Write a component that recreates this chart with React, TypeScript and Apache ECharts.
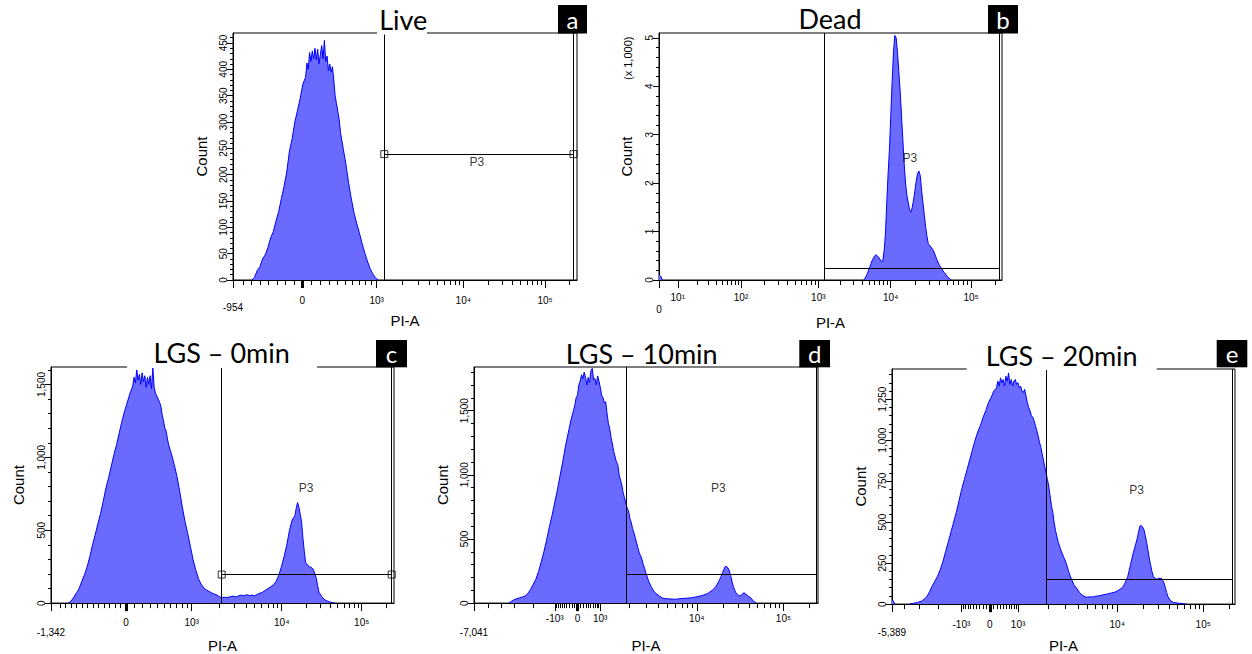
import React, { useEffect, useRef } from 'react';
import * as echarts from 'echarts';

const FONT = "'Liberation Sans', Arial, sans-serif";
const TITLE_FONT = "Lato, 'Open Sans', sans-serif";

// ---------------- titles ----------------
const panelTitles = ['Live', 'Dead', 'LGS – 0min', 'LGS – 10min', 'LGS – 20min'];
const panelLetters = ['a', 'b', 'c', 'd', 'e'];

// ---------------- histogram data: [PI-A display channel (0-256), count] ----------------
const liveHist: any[] = [[14,0],[16,5],[18,18],[20,25],[22,40],[24,48],[26,62],[28,80],[30,92],[32,112],[34,130],[36,155],[38,178],[40,205],[42,245],[44,268],[46,300],[48,322],[50,345],[52,372],[54,385],[55,412],[56,400],[57,432],[58,415],[59,435],[60,420],[61,440],[62,418],[63,438],[64,410],[65,428],[66,445],[67,420],[68,455],[69,415],[70,425],[71,398],[72,410],[73,395],[74,405],[75,380],[76,350],[77,335],[78,320],[79,305],[80,280],[82,250],[84,220],[86,185],[88,155],[90,128],[92,108],[94,90],[96,70],[98,52],[100,36],[102,22],[104,12],[106,4],[108,0]];

const deadHist: any[] = [[0,110],[1.5,70],[2.5,0],[3,'-'],[153,0],[155,100],[157,240],[159,400],[161,500],[162,520],[164,470],[166,380],[167,390],[168,600],[169,950],[170,1600],[171,2200],[172,2700],[173,3400],[174,4100],[175,4700],[176,5050],[177,5000],[178,4700],[179,4300],[180,3900],[181,3400],[182,2900],[183,2400],[184,2000],[185,1750],[186,1600],[187,1450],[188,1400],[189,1500],[190,1650],[191,1850],[192,2050],[193,2200],[194,2250],[195,2150],[196,1850],[197,1600],[198,1350],[199,1100],[200,900],[201,750],[203,680],[205,600],[207,450],[209,320],[211,230],[213,150],[215,80],[217,20],[218,0]];

const lgs0Hist: any[] = [[13,0],[15,15],[17,40],[19,70],[21,100],[23,150],[25,195],[27,250],[29,320],[31,400],[33,470],[35,545],[37,615],[39,700],[41,790],[43,860],[45,940],[47,1020],[49,1090],[51,1170],[53,1250],[55,1320],[57,1380],[59,1440],[61,1490],[62,1550],[63,1510],[64,1600],[65,1530],[66,1570],[67,1500],[68,1580],[69,1520],[70,1560],[71,1480],[72,1550],[73,1500],[74,1560],[75,1470],[76,1620],[77,1480],[78,1440],[79,1420],[80,1400],[81,1380],[82,1350],[83,1290],[84,1250],[85,1200],[86,1180],[87,1120],[88,1080],[89,1050],[90,1020],[92,950],[94,870],[96,770],[98,660],[100,560],[102,480],[104,390],[106,300],[108,230],[110,170],[112,130],[114,105],[116,90],[118,80],[120,70],[122,62],[124,55],[126,42],[128,38],[130,40],[132,38],[134,45],[136,48],[138,42],[140,50],[142,55],[144,50],[146,58],[148,52],[150,55],[152,50],[154,60],[156,68],[158,75],[160,88],[162,100],[164,112],[166,125],[168,150],[170,190],[172,250],[174,320],[176,400],[178,500],[180,570],[182,600],[183,650],[184,690],[185,660],[186,610],[187,560],[188,450],[189,360],[190,280],[191,265],[192,258],[193,250],[194,245],[195,240],[196,225],[197,200],[198,170],[199,120],[200,75],[202,45],[204,25],[206,15],[208,8],[210,3],[212,0]];

const lgs10Hist: any[] = [[26,0],[28,15],[30,28],[32,35],[34,42],[36,48],[38,55],[40,75],[42,105],[44,145],[46,185],[48,245],[50,320],[52,400],[54,490],[56,590],[58,680],[60,780],[62,880],[64,990],[66,1100],[68,1220],[70,1320],[72,1420],[74,1500],[75,1540],[76,1600],[77,1620],[78,1700],[79,1730],[80,1780],[81,1750],[82,1800],[83,1760],[84,1700],[85,1760],[86,1720],[87,1810],[88,1830],[89,1740],[90,1750],[91,1700],[92,1770],[93,1730],[94,1680],[95,1620],[96,1600],[97,1560],[98,1570],[99,1480],[100,1400],[101,1360],[102,1290],[103,1240],[104,1180],[105,1140],[106,1100],[107,1080],[108,1000],[109,960],[110,920],[111,860],[112,820],[113,780],[114,740],[115,720],[116,660],[117,630],[118,580],[119,550],[120,510],[121,470],[122,430],[123,390],[124,370],[125,340],[126,300],[127,270],[128,230],[130,170],[132,125],[134,90],[136,70],[138,55],[140,40],[142,35],[146,32],[150,30],[154,35],[158,38],[162,42],[166,50],[170,60],[174,75],[178,105],[180,130],[182,165],[184,210],[185,240],[186,265],[187,285],[188,285],[189,275],[190,250],[191,215],[192,170],[193,130],[194,100],[195,80],[196,68],[197,60],[198,55],[199,65],[200,75],[201,80],[202,72],[203,65],[204,55],[206,40],[208,15],[210,0]];

const lgs20Hist: any[] = [[0,25],[1,20],[2,0],[3,'-'],[13,0],[16,5],[19,10],[22,18],[24,30],[26,45],[28,75],[30,110],[32,140],[34,170],[36,210],[38,260],[40,320],[42,380],[44,440],[46,500],[48,560],[50,630],[52,700],[54,760],[56,820],[58,880],[60,940],[62,1000],[64,1050],[66,1090],[68,1140],[70,1180],[72,1230],[74,1260],[76,1300],[78,1320],[79,1360],[80,1330],[81,1380],[82,1350],[83,1370],[84,1330],[85,1390],[86,1360],[87,1410],[88,1340],[89,1370],[90,1330],[91,1360],[92,1370],[93,1340],[94,1350],[95,1320],[96,1330],[97,1300],[98,1290],[99,1310],[100,1270],[101,1230],[102,1200],[103,1180],[104,1150],[105,1140],[106,1120],[107,1090],[108,1060],[109,1030],[110,990],[111,960],[112,920],[113,880],[114,840],[115,800],[116,760],[117,720],[118,660],[119,600],[120,560],[121,500],[122,450],[124,380],[126,330],[128,290],[130,250],[132,195],[134,150],[136,115],[138,95],[140,70],[142,55],[144,45],[146,42],[148,45],[150,43],[152,48],[154,50],[156,52],[158,58],[160,60],[162,65],[164,68],[166,72],[168,80],[170,90],[172,100],[174,130],[176,170],[178,240],[180,310],[182,370],[183,400],[184,440],[185,475],[186,480],[187,470],[188,455],[189,420],[190,380],[191,330],[192,280],[193,240],[194,200],[195,170],[196,160],[197,155],[198,150],[199,160],[200,155],[201,158],[202,145],[203,130],[204,100],[205,70],[206,45],[208,20],[210,10],[214,5],[220,0]];

const histograms = [liveHist, deadHist, lgs0Hist, lgs10Hist, lgs20Hist];

// ---------------- x tick labels (channel position + text) ----------------
const liveXTickPos = [0, 51.6, 106.9, 171.4, 232.2];
const liveXTickText = ['-954', '0', '10³', '10⁴', '10⁵'];
const deadXTickPos = [0, 14, 61.2, 118.9, 172.9, 232.9];
const deadXTickText = ['0', '10¹', '10²', '10³', '10⁴', '10⁵'];
const lgs0XTickPos = [0, 56, 105, 172.2, 231.9];
const lgs0XTickText = ['-1,342', '0', '10³', '10⁴', '10⁵'];
const lgs10XTickPos = [0, 60.1, 77.1, 93.9, 165.8, 230.3];
const lgs10XTickText = ['-7,041', '-10³', '0', '10³', '10⁴', '10⁵'];
const lgs20XTickPos = [0, 51.8, 73, 94.1, 168.1, 232.3];
const lgs20XTickText = ['-5,389', '-10³', '0', '10³', '10⁴', '10⁵'];

const xTickPos = [liveXTickPos, deadXTickPos, lgs0XTickPos, lgs10XTickPos, lgs20XTickPos];
const xTickText = [liveXTickText, deadXTickText, lgs0XTickText, lgs10XTickText, lgs20XTickText];
const zeroChannel = [51.6, null, 56, 77.1, 73];

// ---------------- y tick labels ----------------
const liveYTicks = [0, 50, 100, 150, 200, 250, 300, 350, 400, 450];
const deadYTicks = [0, 1000, 2000, 3000, 4000, 5000];
const lgs0YTicks = [0, 500, 1000, 1500];
const lgs10YTicks = [0, 500, 1000, 1500];
const lgs20YTicks = [0, 250, 500, 750, 1000, 1250];
const yTicks = [liveYTicks, deadYTicks, lgs0YTicks, lgs10YTicks, lgs20YTicks];
const yMax = [469, 5100, 1620, 1840, 1434];
const yMinorStep = [10, 200, 100, 100, 50];

// ---------------- P3 gates ----------------
const gateChannel = [112.6, 123.4, 127.4, 113.1, 114.8];
const gateCount = [239, 240, 196, 222, 150];
const gateEndChannel = [253.4, 254, 254.3, 254.5, 254.3];
const p3LabelPos = [[181.5, 224], [187.3, 2513], [190.3, 791], [181.8, 900], [182.6, 696]];

// ---------------- minor tick helpers (axis scale) ----------------
const logMinor = (p1: number, p2: number) => [2, 3, 4, 5, 6, 7, 8, 9].map((m) => p1 + Math.log10(m) * (p2 - p1));
const asinhMinor = (p0: number, p1: number, c = 1.5) =>
  [1, 2, 3, 4, 5, 6, 7, 8, 9].map((k) => p0 + ((p1 - p0) * Math.asinh((k * c) / 10)) / Math.asinh(c));
const linearMinor = (from: number, step: number, stop: number) => {
  const out: number[] = [];
  for (let v = from - step; v > stop; v -= step) out.push(v);
  return out;
};

const xMinor = [
  [...linearMinor(51.6, 6.3, 3), ...asinhMinor(51.6, 106.9), ...logMinor(106.9, 171.4), ...logMinor(171.4, 232.2), 250.5],
  [...logMinor(14, 61.2), ...logMinor(61.2, 118.9), ...logMinor(118.9, 172.9), ...logMinor(172.9, 232.9), 251],
  [...linearMinor(56, 4.1, 6), ...asinhMinor(56, 105), ...logMinor(105, 172.2), ...logMinor(172.2, 231.9), 249.9],
  [10.4, 20.4, 30.3, 44, ...asinhMinor(77.1, 60.1), ...asinhMinor(77.1, 93.9), ...logMinor(93.9, 165.8), ...logMinor(165.8, 230.3), 249.7],
  [9.5, 20.7, 34.4, ...asinhMinor(73, 51.8), ...asinhMinor(73, 94.1), ...logMinor(94.1, 168.1), ...logMinor(168.1, 232.3), 251.6],
];

// ---------------- layout ----------------
const layout = [
  { grid: { left: 233, top: 33, width: 344, height: 247 }, title: [403.3, 19.7], mask: [377, 27, 50, 7.5], box: [558, 5, 29, 28.5], labelMargin: 15, minPad: 7, nameGapX: 25, nameGapY: 24, handles: true },
  { grid: { left: 659, top: 33, width: 343, height: 247 }, title: [830, 18.3], mask: null, box: [988, 5, 30, 28.5], labelMargin: 12, minPad: 12, nameGapX: 23.5, nameGapY: 25, handles: false },
  { grid: { left: 51, top: 367, width: 343, height: 245 }, title: [221.7, 352.5], mask: [127, 360, 190, 8], box: [376, 340, 31, 27.3], labelMargin: 14, minPad: 10, nameGapX: 25, nameGapY: 25, handles: true },
  { grid: { left: 474, top: 367, width: 344, height: 246 }, title: [641.7, 353.8], mask: null, box: [799.3, 340, 30.7, 27.3], labelMargin: 10, minPad: 14, nameGapX: 24, nameGapY: 24.5, handles: false },
  { grid: { left: 892, top: 369, width: 343, height: 245 }, title: [1061.7, 355], mask: [966.7, 362, 190, 8], box: [1216.7, 340, 30.6, 27.3], labelMargin: 15, minPad: 8, nameGapX: 25, nameGapY: 24, handles: false },
];

function buildOption() {
  const grid: any[] = [];
  const xAxis: any[] = [];
  const yAxis: any[] = [];
  const series: any[] = [];
  const graphic: any[] = [];

  layout.forEach((L, i) => {
    grid.push({ ...L.grid, show: true, borderColor: '#000', borderWidth: 1, backgroundColor: 'transparent' });

    const pos = xTickPos[i];
    const txt = xTickText[i];
    // main x axis
    xAxis.push({
      type: 'value', gridIndex: i, position: 'bottom', min: 0, max: 256,
      axisLine: { show: true, onZero: false, lineStyle: { color: '#000', width: 1 } },
      axisTick: { show: true, customValues: pos, length: 8, lineStyle: { color: '#000', width: 1 } },
      axisLabel: {
        show: true, customValues: pos, margin: L.labelMargin, fontSize: 10, fontFamily: FONT, color: '#000',
        showMinLabel: true, showMaxLabel: true, hideOverlap: false,
        formatter: (v: number) => {
          const idx = pos.findIndex((q) => Math.abs(q - v) < 1e-6);
          if (idx < 0) return '';
          return idx === 0 ? '{lo|' + txt[idx] + '}' : txt[idx];
        },
        rich: { lo: { padding: [L.minPad, 0, 0, 0], fontSize: 10, fontFamily: FONT, color: '#000' } },
      },
      splitLine: { show: false },
      name: 'PI-A', nameLocation: 'middle', nameGap: L.nameGapX,
      nameTextStyle: { fontSize: 15, fontFamily: FONT, color: '#000' },
    });
    // minor x ticks
    xAxis.push({
      type: 'value', gridIndex: i, position: 'bottom', min: 0, max: 256,
      axisLine: { show: false, onZero: false },
      axisTick: { show: true, customValues: xMinor[i], length: 5, lineStyle: { color: '#000', width: 1 } },
      axisLabel: { show: false }, splitLine: { show: false },
    });
    // bold zero tick
    const z = zeroChannel[i];
    xAxis.push({
      type: 'value', gridIndex: i, position: 'bottom', min: 0, max: 256, show: z !== null,
      axisLine: { show: false, onZero: false },
      axisTick: { show: z !== null, customValues: z !== null ? [z] : [], length: 8, lineStyle: { color: '#000', width: 3 } },
      axisLabel: { show: false }, splitLine: { show: false },
    });

    const yt = yTicks[i];
    const yminor: number[] = [];
    for (let v = 0; v <= yMax[i]; v += yMinorStep[i]) yminor.push(v);
    yAxis.push({
      type: 'value', gridIndex: i, position: 'left', min: 0, max: yMax[i],
      axisLine: { show: true, onZero: false, lineStyle: { color: '#000', width: 1 } },
      axisTick: { show: true, customValues: yt, length: 6, lineStyle: { color: '#000', width: 1 } },
      axisLabel: {
        show: true, customValues: yt, rotate: 90, margin: 5, fontSize: 10, fontFamily: FONT, color: '#000',
        showMinLabel: true, showMaxLabel: true, hideOverlap: false,
        formatter: (v: number) => (i === 1 ? String(v / 1000) : v.toLocaleString('en-US')),
      },
      splitLine: { show: false },
      name: 'Count', nameLocation: 'middle', nameGap: L.nameGapY,
      nameTextStyle: { fontSize: 15, fontFamily: FONT, color: '#000' },
    });
    yAxis.push({
      type: 'value', gridIndex: i, position: 'left', min: 0, max: yMax[i],
      axisLine: { show: false, onZero: false },
      axisTick: { show: true, customValues: yminor, length: 3, lineStyle: { color: '#000', width: 1 } },
      axisLabel: { show: false }, splitLine: { show: false },
    });

    const g = gateChannel[i];
    const gy = gateCount[i];
    const ge = gateEndChannel[i];
    series.push({
      type: 'line', xAxisIndex: 3 * i, yAxisIndex: 2 * i,
      data: histograms[i], symbol: 'none', showSymbol: false, connectNulls: false,
      lineStyle: { color: '#0000ff', width: 1 },
      areaStyle: { color: '#6a6aff', opacity: 1 },
      silent: true, z: 2,
      markLine: {
        silent: true, symbol: ['none', 'none'], label: { show: false },
        lineStyle: { color: '#000', width: 1, type: 'solid' },
        emphasis: { disabled: true },
        data: [
          [{ coord: [g, 0] }, { coord: [g, yMax[i]] }],
          [{ coord: [g, gy] }, { coord: [ge, gy] }],
          [{ coord: [ge, 0] }, { coord: [ge, yMax[i]] }],
        ],
      },
    });
    if (L.handles) {
      series.push({
        type: 'scatter', xAxisIndex: 3 * i, yAxisIndex: 2 * i,
        data: [[g, gy], [ge, gy]], symbol: 'rect', symbolSize: 7, silent: true, z: 6,
        itemStyle: { color: 'rgba(255,255,255,0)', borderColor: '#000', borderWidth: 1 },
      });
    }
    series.push({
      type: 'scatter', xAxisIndex: 3 * i, yAxisIndex: 2 * i,
      data: [p3LabelPos[i]], symbol: 'circle', symbolSize: 1, silent: true, z: 7,
      itemStyle: { color: 'rgba(0,0,0,0)' },
      label: { show: true, position: 'inside', formatter: 'P3', fontSize: 12, fontFamily: FONT, color: '#000' },
    });

    if (L.mask) {
      graphic.push({ type: 'rect', z: 100, shape: { x: L.mask[0], y: L.mask[1], width: L.mask[2], height: L.mask[3] }, style: { fill: '#fff' } });
    }
    graphic.push({
      type: 'text', z: 101, x: L.title[0], y: L.title[1],
      style: { text: panelTitles[i], fill: '#000', fontSize: 27, fontFamily: TITLE_FONT, textAlign: 'center', textVerticalAlign: 'middle', align: 'center', verticalAlign: 'middle' },
    });
    graphic.push({ type: 'rect', z: 101, shape: { x: L.box[0], y: L.box[1], width: L.box[2], height: L.box[3] }, style: { fill: '#000' } });
    graphic.push({
      type: 'text', z: 102, x: L.box[0] + L.box[2] / 2, y: L.box[1] + L.box[3] / 2,
      style: { text: panelLetters[i], fill: '#fff', fontSize: 24, fontFamily: TITLE_FONT, textAlign: 'center', textVerticalAlign: 'middle', align: 'center', verticalAlign: 'middle' },
    });
  });

  graphic.push({
    type: 'text', z: 101, x: 627.5, y: 58.3, rotation: Math.PI / 2,
    style: { text: '(x 1,000)', fill: '#000', fontSize: 11, fontFamily: FONT, textAlign: 'center', textVerticalAlign: 'middle', align: 'center', verticalAlign: 'middle' },
  });

  return { animation: false, backgroundColor: '#fff', grid, xAxis, yAxis, series, graphic };
}

export default function App() {
  const ref = useRef<HTMLDivElement>(null);
  useEffect(() => {
    if (!ref.current) return;
    const chart = echarts.init(ref.current, undefined, { renderer: 'svg' });
    chart.setOption(buildOption() as any);
    return () => chart.dispose();
  }, []);
  return <div ref={ref} style={{ position: 'absolute', left: 0, top: 0, width: 1252, height: 654, background: '#fff' }} />;
}
